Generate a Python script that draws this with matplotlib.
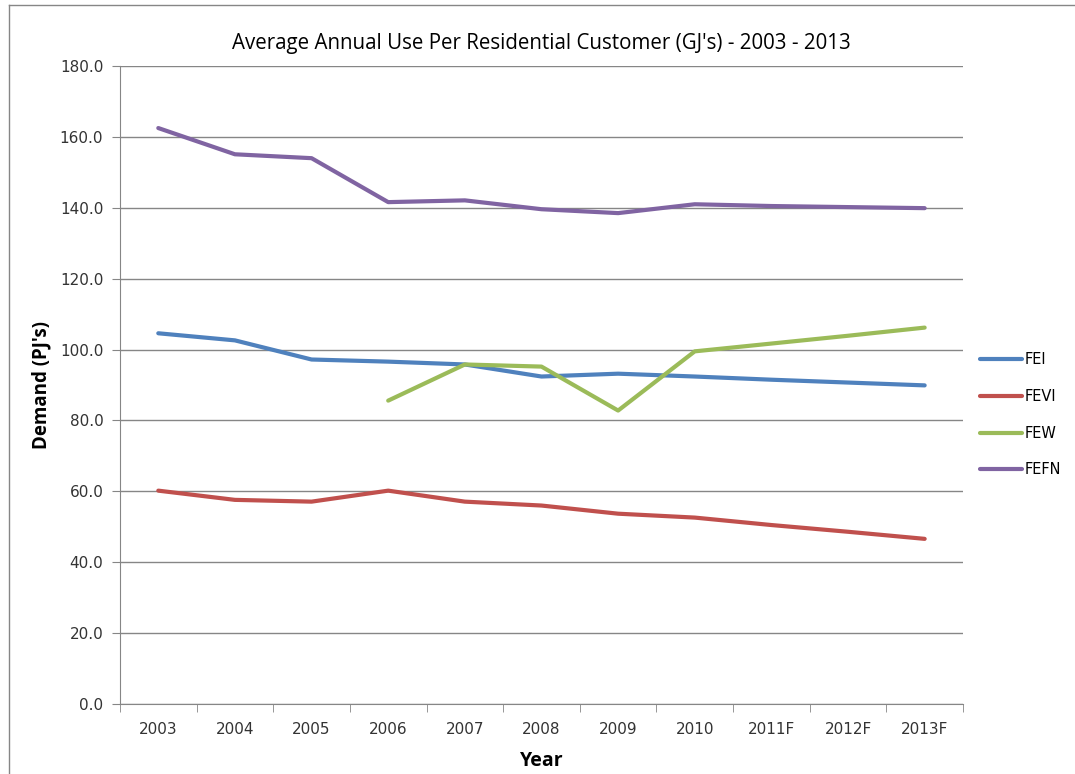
import matplotlib
matplotlib.use("Agg")
import matplotlib.pyplot as plt
from matplotlib.lines import Line2D

# Average annual use per residential customer, by utility
years = ['2003', '2004', '2005', '2006', '2007', '2008', '2009', '2010', '2011F', '2012F', '2013F']
fei = [104.6, 102.6, 97.2, 96.6, 95.8, 92.4, 93.2, 92.4, 91.5, 90.7, 89.9]
fevi = [60.2, 57.6, 57.1, 60.2, 57.1, 56.0, 53.7, 52.6, 50.5, 48.6, 46.6]
few = [None, None, None, 85.6, 95.8, 95.2, 82.8, 99.5, 101.7, 103.9, 106.2]
fefn = [162.5, 155.1, 154.0, 141.6, 142.1, 139.6, 138.5, 141.0, 140.5, 140.2, 139.9]
yticks = [0, 20, 40, 60, 80, 100, 120, 140, 160, 180]

series = [('FEI', fei, '#4F81BD'), ('FEVI', fevi, '#C0504D'),
          ('FEW', few, '#9BBB59'), ('FEFN', fefn, '#8064A2')]

fig = plt.figure(figsize=(10.75, 7.74), dpi=100)
ax = fig.add_axes([0.1116, 0.0904, 0.7842, 0.8243])

x = list(range(len(years)))
handles = []
for name, vals, col in series:
    xs = [i for i, v in zip(x, vals) if v is not None]
    ys = [v for v in vals if v is not None]
    h, = ax.plot(xs, ys, color=col, lw=3, solid_capstyle='round', label=name, zorder=3)
    handles.append(h)

ax.set_xlim(-0.5, len(years) - 0.5)
ax.set_ylim(0, 180)
ax.set_yticks(yticks)
ax.set_yticklabels([f'{v:.1f}' for v in yticks], fontsize=11, color='#333333')
ax.set_xticks(x)
ax.set_xticklabels(years, fontsize=11, family='Liberation Sans Narrow', color='#333333')
ax.set_xticks([i - 0.5 for i in range(len(years) + 1)], minor=True)
ax.tick_params(axis='x', which='major', length=0, pad=13)
ax.tick_params(axis='x', which='minor', length=6, color='#868686', direction='out')
ax.tick_params(axis='y', length=6, color='#868686', pad=6)

ax.grid(axis='y', color='#868686', lw=1)
ax.set_axisbelow(True)
for s in ['top', 'right']:
    ax.spines[s].set_visible(False)
for s in ['left', 'bottom']:
    ax.spines[s].set_color('#868686')

ax.set_title("Average Annual Use Per Residential Customer (GJ's) - 2003 - 2013",
             fontsize=14.8, family='Open Sans', pad=12)
ax.set_ylabel("Demand (PJ's)", fontsize=13.5, fontweight='bold', family='Open Sans', labelpad=6)
ax.set_xlabel('Year', fontsize=14, fontweight='bold', family='Open Sans', labelpad=10)

fig.legend(handles=handles, loc='center left', bbox_to_anchor=(0.8995, 0.464),
           frameon=False, handlelength=2.9, handletextpad=0.15,
           labelspacing=1.48, prop={'family': 'Liberation Sans Narrow', 'size': 10.5})

# chart frame
fig.add_artist(Line2D([9 / 1075, 9 / 1075], [0, 1 - 5 / 774], color='#868686', lw=1))
fig.add_artist(Line2D([9 / 1075, 1], [1 - 5 / 774, 1 - 5 / 774], color='#868686', lw=1))

fig.savefig('out.png', dpi=100)
